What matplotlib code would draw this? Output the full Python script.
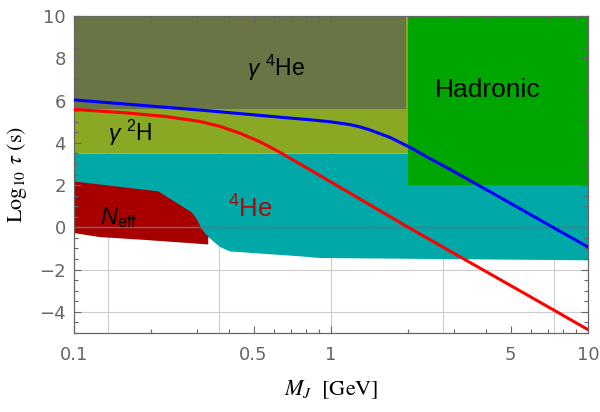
import numpy as np
import matplotlib
matplotlib.use('Agg')
import matplotlib.pyplot as plt

plt.rcParams['font.family'] = ['Liberation Sans', 'DejaVu Sans']
plt.rcParams['mathtext.fontset'] = 'custom'
plt.rcParams['mathtext.rm'] = 'Liberation Sans'
plt.rcParams['mathtext.it'] = 'Liberation Sans:italic'

# curves (mass in GeV, log10 lifetime in s)
blue_x = [0.1, 0.309, 0.693, 0.83, 1.0, 1.186, 1.29, 1.41, 1.70, 2.04, 2.43, 2.90, 4.67, 7.31, 10]
blue_y = [6.03, 5.55, 5.17, 5.09, 4.99, 4.86, 4.76, 4.62, 4.25, 3.77, 3.25, 2.75, 1.34, 0.0, -0.93]
red_x = [0.1, 0.158, 0.229, 0.309, 0.370, 0.443, 0.529, 0.633, 0.757, 0.906, 2.0, 3.27, 7.4, 10]
red_y = [5.58, 5.42, 5.24, 5.01, 4.78, 4.45, 4.05, 3.55, 3.00, 2.45, 0.0, -1.48, -3.93, -4.84]

# excluded regions
he4_x = [0.1, 10, 10, 0.906, 0.757, 0.405, 0.370, 0.333, 0.1]
he4_y = [3.5, 3.5, -1.56, -1.45, -1.37, -1.14, -0.93, -0.46, 0.0]
h2_x = [0.1, 2.0, 2.0, 0.1]
h2_y = [3.5, 3.5, 10, 10]
gam_he4_x = [0.1, 1.95, 1.95, 0.1]
gam_he4_y = [5.6, 5.6, 10, 10]
hadr_x = [2.0, 10, 10, 2.0]
hadr_y = [2.0, 2.0, 10, 10]
neff_x = [0.1, 0.213, 0.287, 0.300, 0.314, 0.328, 0.333, 0.333, 0.186, 0.126, 0.1]
neff_y = [2.17, 1.70, 0.71, 0.40, -0.07, -0.38, -0.38, -0.81, -0.59, -0.46, -0.27]

grid_x = np.exp([-2, -1, 0, 1, 2])
grid_y = [-4, -2, 2, 4, 6, 8]

fig = plt.figure(figsize=(6, 4.12), dpi=100)
ax = fig.add_axes([0.1233, 0.1917, 0.98 - 0.1233, 0.9612 - 0.1917])
ax.set_xscale('log')

for gx in grid_x:
    ax.axvline(gx, color='#cccccc', lw=0.8, zorder=0.5)
for gy in grid_y:
    ax.axhline(gy, color='#cccccc', lw=0.8, zorder=0.5)

ax.fill(he4_x, he4_y, color='#00a8a8', lw=0, zorder=1)
ax.fill(h2_x, h2_y, color='#89a824', lw=0, zorder=1.1)
ax.fill(gam_he4_x, gam_he4_y, color='#697544', lw=0, zorder=1.2)
ax.fill(hadr_x, hadr_y, color='#00a600', lw=0, zorder=1.3)
ax.fill(neff_x, neff_y, color='#a80000', lw=0, zorder=1.4)

ax.axhline(0, color='#786868', lw=1.0, zorder=2)

ax.plot(blue_x, blue_y, color='#0000ff', lw=2.2, zorder=3)
ax.plot(red_x, red_y, color='#ff0000', lw=2.2, zorder=3)

ax.text(0.470, 7.15, r'$\mathit{\gamma}\ ^4$He', fontsize=16.5, ha='left', va='baseline', zorder=4)
ax.text(0.1356, 4.11, r'$\mathit{\gamma}\ ^2$H', fontsize=16.5, ha='left', va='baseline', zorder=4)
ax.text(2.54, 6.17, 'Hadronic', fontsize=19, ha='left', va='baseline', zorder=4)
ax.text(0.397, 0.48, r'$^4$He', fontsize=18.5, color='#a50d0d', ha='left', va='baseline', zorder=4)
ax.text(0.126, 0.17, r'$N_{\mathrm{eff}}$', fontsize=17, ha='left', va='baseline', zorder=4)

ax.set_xlim(0.1, 10)
ax.set_ylim(-5, 10)
ax.set_xticks([0.1, 0.5, 1, 5, 10])
ax.set_xticklabels(['0.1', '0.5', '1', '5', '10'])
ax.set_xticks([0.2, 0.3, 0.4, 0.6, 0.7, 0.8, 0.9, 2, 3, 4, 6, 7, 8, 9], minor=True)
ax.xaxis.set_minor_formatter(matplotlib.ticker.NullFormatter())
ax.set_yticks(np.arange(-4, 11, 2))
ax.set_yticks(np.arange(-5, 10.01, 0.5), minor=True)

for lab in ax.get_xticklabels() + ax.get_yticklabels():
    lab.set_family('DejaVu Sans')
ax.tick_params(which='both', direction='in', top=True, right=True, color='#666666',
               labelcolor='#666666', labelsize=13, width=0.8)
ax.tick_params(which='major', length=5)
ax.tick_params(axis='x', which='major', pad=9)
ax.tick_params(axis='y', which='major', pad=6)
ax.tick_params(which='minor', length=3)
for s in ax.spines.values():
    s.set_color('#666666')
    s.set_linewidth(0.9)

ax.set_xlabel(r'$M_J\ \ [\mathrm{GeV}]$', fontsize=16, math_fontfamily='stix')
ax.set_ylabel(r'$\mathrm{Log}_{10}\ \tau\ \left(\mathrm{s}\right)$', fontsize=16, math_fontfamily='stix')
ax.xaxis.set_label_coords(0.5, -0.18)
ax.xaxis.label.set_va('center')
ax.yaxis.set_label_coords(-0.11, 0.5)
ax.yaxis.label.set_va('center')

fig.savefig('out.png', dpi=100)
